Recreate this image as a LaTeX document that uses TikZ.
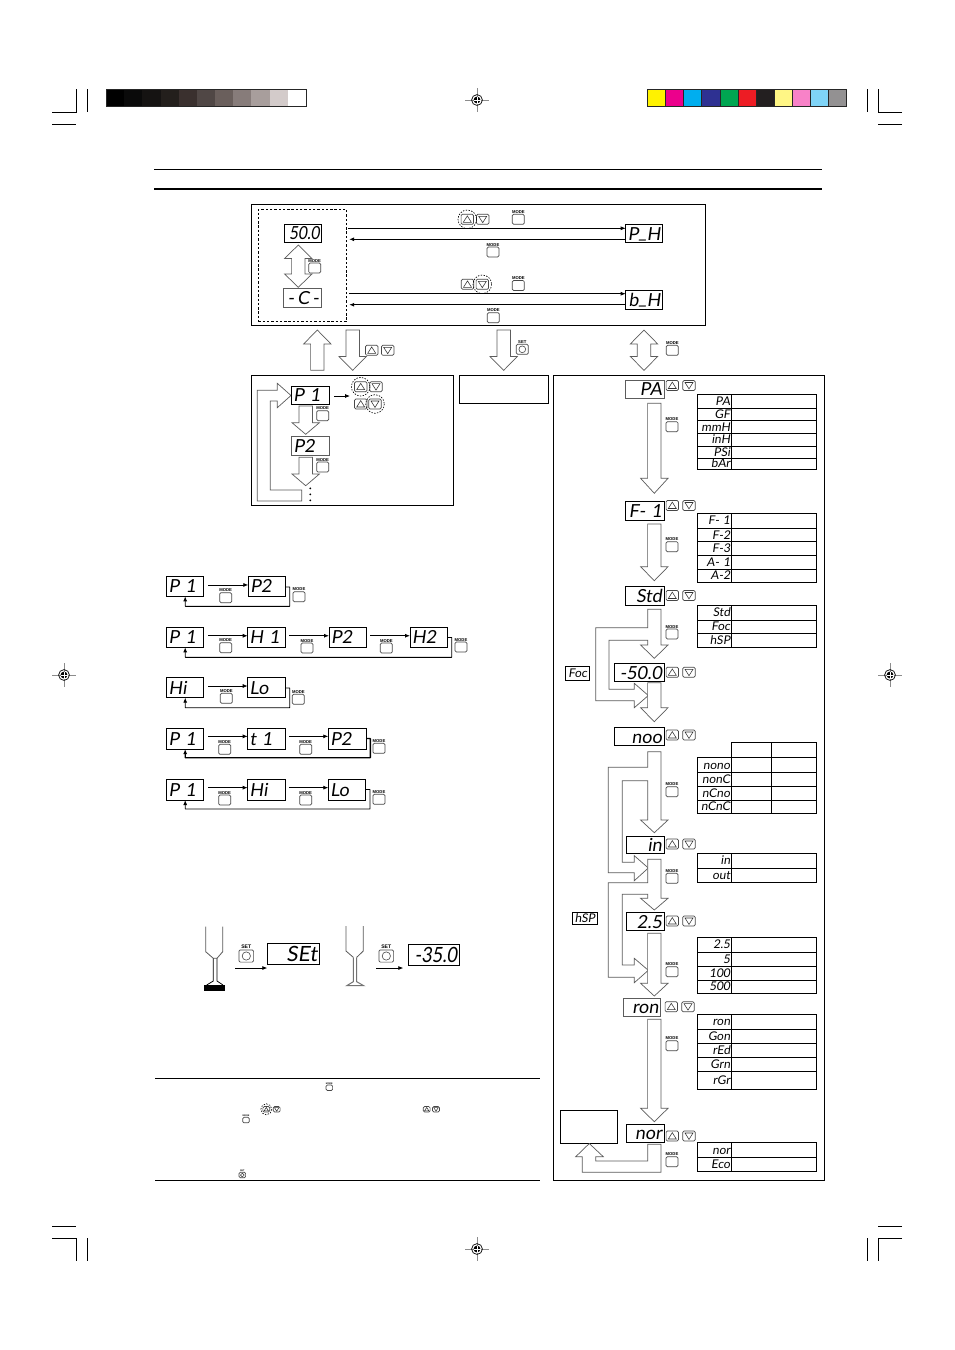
\documentclass[tikz,border=0pt]{standalone}
\usepackage{fontspec}
\usetikzlibrary{arrows.meta,calc}
\setmainfont{Liberation Sans}
\newfontfamily\lcdf[FakeSlant=0.14]{Lato}
\newfontfamily\lcdn[FakeSlant=0.14,FakeStretch=0.86]{Lato}
\newfontfamily\btnf{Liberation Sans}
\definecolor{edge}{gray}{0.36}
\newcount\tcnt
\tikzset{
 lcdbox/.style={draw=black,line width=.9pt,inner sep=0pt,outer sep=0pt,fill=white,align=right,text height=13pt,text depth=0pt,font=\lcdf\fontsize{18}{18}\selectfont},
 lcdgray/.style={draw=edge,line width=.7pt},
 lft/.style={align=left},
 big/.style={font=\lcdf\fontsize{21}{21}\selectfont,text height=15pt},
 bign/.style={font=\lcdn\fontsize{21}{21}\selectfont,text height=15pt},
 nar/.style={font=\lcdn\fontsize{18}{18}\selectfont},
 tcell/.style={draw=black,line width=.7pt,inner sep=0pt,outer sep=0pt,anchor=north west,align=right,text height=8pt,text depth=0pt,font=\lcdf\fontsize{12}{12}\selectfont},
 conn/.style={draw=black,line width=.75pt,-{Latex[length=5pt,width=4pt]}},
 ret/.style={draw=black,line width=.9pt,rounded corners=.3pt,-{Latex[length=5pt,width=4pt]}},
 blk/.style={draw=edge,line width=.7pt,fill=white,line join=miter},
 btn/.style={draw=black!72,line width=.7pt,fill=white,rounded corners=1.3pt},
 btnlab/.style={inner sep=0pt,font=\btnf\bfseries\fontsize{4.2}{4.2}\selectfont,transform shape},
 hlc/.style={draw=black,line width=.65pt,dash pattern=on 1.4pt off 1.4pt},
 panel/.style={draw=black,line width=.9pt,outer sep=0pt,inner sep=0pt,anchor=north west},
 tag/.style={draw=black,line width=.8pt,inner sep=0pt,outer sep=0pt,font=\lcdf\fontsize{12}{12}\selectfont},
 cropm/.style={draw=black,line width=.75pt},
}
\newcommand\disp[7][]{%
 \pgfmathsetmacro\dw{#5-#3}\pgfmathsetmacro\dh{#6-#4}\pgfmathsetmacro\dtw{#5-#3-4}%
 \node[lcdbox,#1,minimum width=\dw pt,minimum height=\dh pt,text width=\dtw pt] (#2) at ({(#3+#5)/2},{(#4+#6)/2}) {\mbox{#7}};}
\newcommand\modeb[3][1]{\begin{scope}[shift={(#2,#3)},scale=#1]
 \draw[btn] (-6,-5) rectangle (6,5);
 \global\advance\tcnt by 1 \node[btnlab] (ml\the\tcnt) at (0,-7.3) {MODE};
 \end{scope}}
\newcommand\setb[3][1]{\begin{scope}[shift={(#2,#3)},scale=#1]
 \draw[btn] (-6,-5) rectangle (6,5); \draw[draw=black!72,line width=.6pt] (0,0) circle (3.4);
 \global\advance\tcnt by 1 \node[btnlab] (sl\the\tcnt) at (0,-7.3) {SET};
 \end{scope}}
\newcommand\udone[4][1]{\begin{scope}[shift={(#2,#3)},scale=#1]
 \draw[btn] (-6.2,-5) rectangle (6.2,5);
 \ifnum#4=0 \draw[line width=.55pt,black!80] (-4,3)--(4,3)--(0,-3.4)--cycle;
 \else \draw[line width=.55pt,black!80] (-4,-3)--(4,-3)--(0,3.4)--cycle; \fi
 \end{scope}}
\newcommand\ud[4][1]{\udone[#1]{#2}{#4}{0}\udone[#1]{#3}{#4}{1}}
\newcommand\hl[3]{\draw[hlc] (#1,#2) circle (#3);}
\newcommand\dn[4]{\draw[blk] (#1-6.7,#2)--(#1-6.7,#3)--(#1-13.7,#3)--(#1,#4)--(#1+13.7,#3)--(#1+6.7,#3)--(#1+6.7,#2)--cycle;}
\newcommand\upa[4]{\draw[blk] (#1-6.7,#2)--(#1-6.7,#3)--(#1-13.7,#3)--(#1,#4)--(#1+13.7,#3)--(#1+6.7,#3)--(#1+6.7,#2)--cycle;}
\newcommand\dbl[5]{\draw[blk] (#1,#2)--(#1+13.7,#3)--(#1+6.7,#3)--(#1+6.7,#4)--(#1+13.7,#4)--(#1,#5)--(#1-13.7,#4)--(#1-6.7,#4)--(#1-6.7,#3)--(#1-13.7,#3)--cycle;}
\newcommand\tbl[2]{\def\tprev{#1}%
 \foreach \yy/\lab in {#2}{%
  \pgfmathsetmacro\hh{\yy-\tprev}\global\advance\tcnt by 1
  \node[tcell,minimum width=34pt,minimum height=\hh pt,text width=31pt] (ta\the\tcnt) at (697.7,\tprev) {\mbox{\lab}};
  \node[tcell,minimum width=85pt,minimum height=\hh pt] (tb\the\tcnt) at (731.7,\tprev) {};
  \xdef\tprev{\yy}}}
\newcommand\regm[2]{\begin{scope}[shift={(#1,#2)}]
 \draw[black!45,line width=.6pt] (-12,0)--(12,0) (0,-12)--(0,12);
 \draw[black,line width=.7pt] (0,0) circle (5.4);
 \fill[black] (0,0) circle (3.4);
 \draw[white,line width=.6pt] (-3.5,0)--(3.5,0) (0,-3.5)--(0,3.5);
 \end{scope}}
\begin{document}
\begin{tikzpicture}[x=1pt,y=-1pt]
\useasboundingbox (0,0) rectangle (954,1350);
\fill[white] (0,0) rectangle (954,1350);
% crop marks
\draw[cropm] (52,112.3)--(76,112.3)--(76,89) (52,124)--(76,124) (87.5,89)--(87.5,112.3);
\draw[cropm] (902,112.3)--(878,112.3)--(878,89) (902,124)--(878,124) (867,89)--(867,112.3);
\draw[cropm] (52,1226.5)--(76,1226.5) (52,1238)--(76,1238)--(76,1261) (87.5,1238)--(87.5,1261);
\draw[cropm] (902,1226.5)--(878,1226.5) (902,1238)--(878,1238)--(878,1261) (867,1238)--(867,1261);
% colour bars
\foreach \c [count=\i from 0] in {000000,0A0A0A,151312,231F1C,3A302E,504745,6A5F5C,877C7A,A89E9C,D3CBCA,FFFFFF}{
 \definecolor{sw}{HTML}{\c}\fill[sw] ({106+\i*18.18},89) rectangle ({106+(\i+1)*18.18},106.7);}
\draw[draw=black!85,line width=.7pt] (106,89) rectangle (306,106.7);
\foreach \c [count=\i from 0] in {FFF200,EC008C,00AEEF,2E3192,00A651,ED1C24,231F20,FFF685,F882C8,7FD4F7,939192}{
 \definecolor{sw}{HTML}{\c}\fill[sw] ({647.3+\i*18.136},89) rectangle ({647.3+(\i+1)*18.136},106.7);
 \draw[black!85,line width=.7pt] ({647.3+\i*18.136},89) rectangle ({647.3+(\i+1)*18.136},106.7);}
\regm{477}{100}\regm{477}{1249}\regm{64}{675}\regm{890}{675}
% header rules
\draw[black,line width=.6pt] (154,169.3)--(822,169.3);
\draw[black,line width=2pt] (154,188.7)--(822,188.7);
% top panel
\node[panel,minimum width=454.4pt,minimum height=120.7pt] (top) at (251.3,204.3) {};
\node[draw=black,line width=.7pt,dash pattern=on 2.4pt off 1.9pt,minimum width=88.4pt,minimum height=112.4pt,inner sep=0pt,outer sep=0pt,anchor=north west] (dsh) at (258.3,209.3) {};
\dbl{298.3}{245}{258.5}{274}{287.3}
\modeb{314.7}{268}
\disp[nar]{d500}{284.3}{224.3}{321.7}{242.3}{50.0}
\disp[lcdgray]{dC}{283.5}{288.3}{321}{307.7}{-\,C\,-}
\disp{dPH}{625.7}{224.5}{662.7}{242.5}{P\raisebox{2pt}{\_}H}
\disp{dbH}{625.7}{290}{662.7}{309}{b\raisebox{2pt}{\_}H}
\draw[conn] ([xshift=1.5pt,yshift=37.2pt]dsh.east)--([yshift=5.2pt]dPH.west);
\draw[conn] ([yshift=-5.8pt]dPH.west)--([xshift=2.5pt,yshift=26.2pt]dsh.east);
\draw[conn] ([xshift=2.5pt,yshift=-28.2pt]dsh.east)--([yshift=5.8pt]dbH.west);
\draw[conn,line width=1.5pt] ([yshift=-5.2pt]dbH.west)--([xshift=2.5pt,yshift=-39.2pt]dsh.east);
\ud{467.3}{482.7}{219.3}\hl{467.3}{219.3}{9.3}\modeb{518.3}{219.3}\modeb{493}{252}
\ud{467.5}{482.3}{284.3}\hl{482.3}{284.3}{9.3}\modeb{518.3}{285.5}\modeb{493.3}{317.7}
% connecting block arrows
\upa{317.3}{370.3}{344}{330}
\dn{352.7}{330}{356.5}{370.3}\ud{371.7}{387.7}{350.3}
\dn{503.7}{330}{356.5}{370.3}\setb{522.3}{349.3}
\dbl{644}{330}{344}{356.5}{370.3}\modeb{672.3}{350.3}
% left lower panel
\node[panel,minimum width=202pt,minimum height=130pt] (pl) at (251.3,375.3) {};
\node[panel,minimum width=89.4pt,minimum height=28pt] (pm) at (459.3,375.3) {};
\node[panel,minimum width=271pt,minimum height=805pt] (pr) at (553.6,375.3) {};
\draw[blk] (291,395.5)--(277.3,383.3)--(277.3,390.3)--(257.3,390.3)--(257.3,501)--(301.7,501)--(301.7,490)--(270.3,490)--(270.3,401)--(277.3,401)--(277.3,407.7)--cycle;
\dn{305.7}{406}{422.7}{434.3}\modeb{322.7}{415.7}
\dn{305.7}{457.3}{474}{485.7}\modeb{322.7}{467}
\disp[lft]{dP1}{291.3}{386.3}{329.7}{404.3}{P 1}
\disp[lcdgray,lft]{dP2}{291.5}{436.3}{329.3}{455}{P2}
\foreach \yy in {488.3,494.3,500.3}{\fill[black] (310.3,\yy) circle (1);}
\coordinate (p1tgt) at (350,396);
\draw[conn] ([xshift=4.3pt,yshift=-.7pt]dP1.east)--(p1tgt);
\ud{360.7}{376}{386.7}\hl{360.7}{386.7}{9.3}
\ud{360.7}{375}{404}\hl{375}{404}{9.3}
% sequences
\disp[lft]{a1}{166.7}{576}{203.7}{596.3}{P 1}
\disp[lft]{a2}{248.3}{576}{285.7}{596.3}{P2}
\draw[conn] ([xshift=4.6pt,yshift=1.2pt]a1.east)--([yshift=1.2pt]a2.west);
\draw[ret] (285.7,587)-|(289.7,606.3)-|(a1.south);
\modeb{225.7}{597.7}\modeb{299}{596.7}
\disp[lft]{b1}{166.7}{627}{203.7}{647.3}{P 1}
\disp[lft]{b2}{247.7}{627}{285}{647.3}{H 1}
\disp[lft]{b3}{329}{627}{366.7}{647.3}{P2}
\disp[lft]{b4}{410}{627}{447.3}{647.3}{H2}
\draw[conn] ([xshift=4.6pt,yshift=1.4pt]b1.east)--([yshift=1.4pt]b2.west);
\draw[conn] ([xshift=4pt,yshift=1.4pt]b2.east)--([yshift=1.4pt]b3.west);
\draw[conn] ([xshift=3.3pt,yshift=1.4pt]b3.east)--([yshift=1.4pt]b4.west);
\draw[ret] (447.3,637.5)-|(451.7,657.3)-|(b1.south);
\modeb{225.7}{647.7}\modeb{307}{648}\modeb{386.3}{648}\modeb{461}{647}
\disp[lft]{c1}{166.7}{677.3}{203.7}{697.7}{Hi}
\disp[lft]{c2}{247.7}{677.3}{285}{697.7}{Lo}
\draw[conn] ([xshift=4.6pt,yshift=1.5pt]c1.east)--([yshift=1.5pt]c2.west);
\draw[ret] (285,688)-|(289.7,707.7)-|(c1.south);
\modeb{226.3}{698.3}\modeb{298.3}{699.3}
\disp[lft]{e1}{166.7}{728.3}{203.7}{749}{P 1}
\disp[lft]{e2}{247.7}{728.3}{285}{749}{t 1}
\disp[lft]{e3}{328.3}{728.3}{366.7}{749}{P2}
\draw[conn] ([xshift=4.6pt,yshift=2.3pt]e1.east)--([yshift=2.3pt]e2.west);
\draw[conn] ([xshift=4pt,yshift=2.3pt]e2.east)--([yshift=2.3pt]e3.west);
\draw[ret,line width=1.4pt] (366.7,738.5)-|(370.3,757.7)-|(e1.south);
\modeb{224.7}{749.3}\modeb{305.7}{749.3}\modeb{379}{748.3}
\disp[lft]{f1}{166.7}{779.3}{203.7}{800}{P 1}
\disp[lft]{f2}{247.7}{779.3}{285}{800}{Hi}
\disp[lft]{f3}{328.3}{779.3}{365.7}{800}{Lo}
\draw[conn] ([xshift=4.6pt,yshift=2pt]f1.east)--([yshift=2pt]f2.west);
\draw[conn] ([xshift=4pt,yshift=2pt]f2.east)--([yshift=2pt]f3.west);
\draw[ret] (365.7,789.5)-|(370,809)-|(f1.south);
\modeb{224.7}{800}\modeb{305.7}{800}\modeb{379}{799.3}
% tubes
\draw[black!65,line width=.8pt] (205.7,926.7)--(205.7,951.7)--(213.3,958.3)--(217,958.3)--(222.7,951.7)--(222.7,926.7);
\draw[black,line width=.8pt] (213.3,958.3)--(213.3,981)--(206.7,985) (217,958.3)--(217,981)--(223,985);
\fill[black] (204,985) rectangle (225,990.7);
\setb[1.22]{246.3}{956}
\coordinate (ar1s) at (235,968);
\disp[big]{dSEt}{267.3}{943.3}{319}{964.3}{SEt}
\draw[conn] (ar1s)--(dSEt.south west|-ar1s);
\draw[black!65,line width=.8pt] (346,926)--(346,951)--(353.3,957.3) (363.3,926)--(363.3,951)--(356.7,957.3);
\draw[black!55,line width=1pt] (353.3,957.3)--(353.3,981.7)--(346.7,985.7)--(363.7,985.7)--(356.7,981.7)--(356.7,957.3);
\setb[1.22]{386.3}{956}
\coordinate (ar2s) at (376,968);
\coordinate (ar2e) at (403.3,968);
\draw[conn] (ar2s)--(ar2e);
\disp[bign]{d350}{408.7}{944}{459}{965.7}{-35.0}
% footnote rules and icons
\draw[black,line width=.75pt] (155,1078.7)--(540,1078.7) (155,1180)--(540,1180);
\modeb[.55]{329.3}{1087.7}
\ud[.55]{266.3}{276.7}{1109.3}\hl{266.3}{1109.3}{5.5}
\ud[.55]{426.7}{436}{1109.3}
\modeb[.55]{246}{1120}
\setb[.55]{242.3}{1175}
% ---- right panel ----
\dn{654.3}{403.3}{478.3}{493.3}
\disp[lcdgray]{rPA}{625.3}{380}{664}{398.3}{PA}
\ud{672.3}{689}{385.5}\modeb{672}{426.7}
\tbl{394}{408.3/PA,420.7/GF,433.3/mmH,446/inH,458.7/PSi,469/bAr}
\dn{654.3}{524}{566.7}{580.7}
\disp{rF1}{625.3}{501}{664}{520}{F- 1}
\ud{672.3}{689}{505.5}\modeb{672}{546.7}
\tbl{513.3}{528.3/F- 1,541.7/F-2,555.7/F-3,569.3/A- 1,582.3/A-2}
% Std with Foc branch
\draw[blk] (647.7,609.3)--(647.7,627.7)--(595.7,627.7)--(595.7,700.7)--(634.3,700.7)--(634.3,707.7)--(648.3,695.5)--(634.3,683.3)--(634.3,689.3)--(609,689.3)--(609,640.3)--(647.7,640.3)--(647.7,645)--(640.6,645)--(654.3,658.3)--(668,645)--(661,645)--(661,609.3)--cycle;
\disp{rStd}{625.3}{586.7}{664}{605}{Std}
\ud{672.3}{689}{595.5}\modeb{672}{634}
\tbl{605}{620/Std,633.3/Foc,647.3/hSP}
\node[tag,minimum width=24pt,minimum height=14pt] (lFoc) at (577.7,673.7) {Foc};
\dn{654.3}{682.7}{707.7}{721.7}
\disp{r500}{614.3}{663.3}{664}{681.7}{-50.0}
\ud{672.3}{689}{672.3}
% noo
\draw[blk] (647.7,751.7)--(647.7,767.3)--(608.3,767.3)--(608.3,872.7)--(634.3,872.7)--(634.3,880.7)--(648.3,868)--(634.3,855.7)--(634.3,862.3)--(622.3,862.3)--(622.3,780.7)--(647.7,780.7)--(647.7,820)--(640.6,820)--(654.3,832.7)--(668,820)--(661,820)--(661,751.7)--cycle;
\disp{rnoo}{614.3}{727.3}{664}{745.7}{noo}
\ud{672.3}{689}{735}\modeb{672}{791.7}
\tbl{757.3}{772.7/nono,786.7/nonC,800/nCno,813.3/nCnC}
\node[tcell,minimum width=40pt,minimum height=14.6pt] (hd1) at (731.7,742.7) {};
\node[tcell,minimum width=45pt,minimum height=14.6pt] (hd2) at (771.7,742.7) {};
\foreach \yy/\hh in {757.3/15.4,772.7/14,786.7/13.3,800/13.3}{\draw[black,line width=.7pt] (771.7,\yy)--(771.7,{\yy+\hh});}
% in
\draw[blk] (647.7,859.3)--(647.7,882.7)--(608.3,882.7)--(608.3,977.3)--(634.3,977.3)--(634.3,982.7)--(648.3,970.3)--(634.3,958.3)--(634.3,965)--(622.3,965)--(622.3,894.3)--(647.7,894.3)--(647.7,898.3)--(640.6,898.3)--(654.3,910)--(668,898.3)--(661,898.3)--(661,859.3)--cycle;
\disp{rin}{626.3}{836}{664}{853.3}{in}
\ud{672.3}{689}{844}\modeb{672}{878.3}
\tbl{853.3}{868.3/in,882.3/out}
% 2.5
\dn{654.3}{933.3}{983.3}{996}
\disp{r25}{626.3}{912.3}{664}{930.7}{2.5}
\ud{672.3}{689}{921}\modeb{672}{971.7}
\tbl{937.3}{952.3/2.5,966/5,980/100,993.3/500}
\node[tag,minimum width=25.4pt,minimum height=11.6pt] (lhSP) at (585,918.5) {hSP};
% ron
\dn{654.3}{1019.3}{1108.3}{1121.7}
\disp[lcdgray]{rron}{623.3}{998.3}{660.7}{1016.3}{ron}
\ud{671.3}{688}{1006.7}\modeb{672}{1045.7}
\tbl{1014}{1029.3/ron,1043.3/Gon,1057.3/rEd,1071/Grn,1089.3/rGr}
% nor
\node[panel,minimum width=57.4pt,minimum height=33.4pt] (rbox) at (560.3,1110.3) {};
\draw[blk] (647.7,1144.3)--(647.7,1161)--(595.7,1161)--(595.7,1156.7)--(603.3,1156.7)--(589.3,1143.5)--(575.7,1156.7)--(582.3,1156.7)--(582.3,1172.3)--(661,1172.3)--(661,1144.3)--cycle;
\disp{rnor}{626.3}{1124}{664}{1142.3}{nor}
\ud{672.3}{689}{1136}\modeb{672}{1161.7}
\tbl{1142.7}{1157.3/nor,1171.3/Eco}
\end{tikzpicture}
\end{document}
